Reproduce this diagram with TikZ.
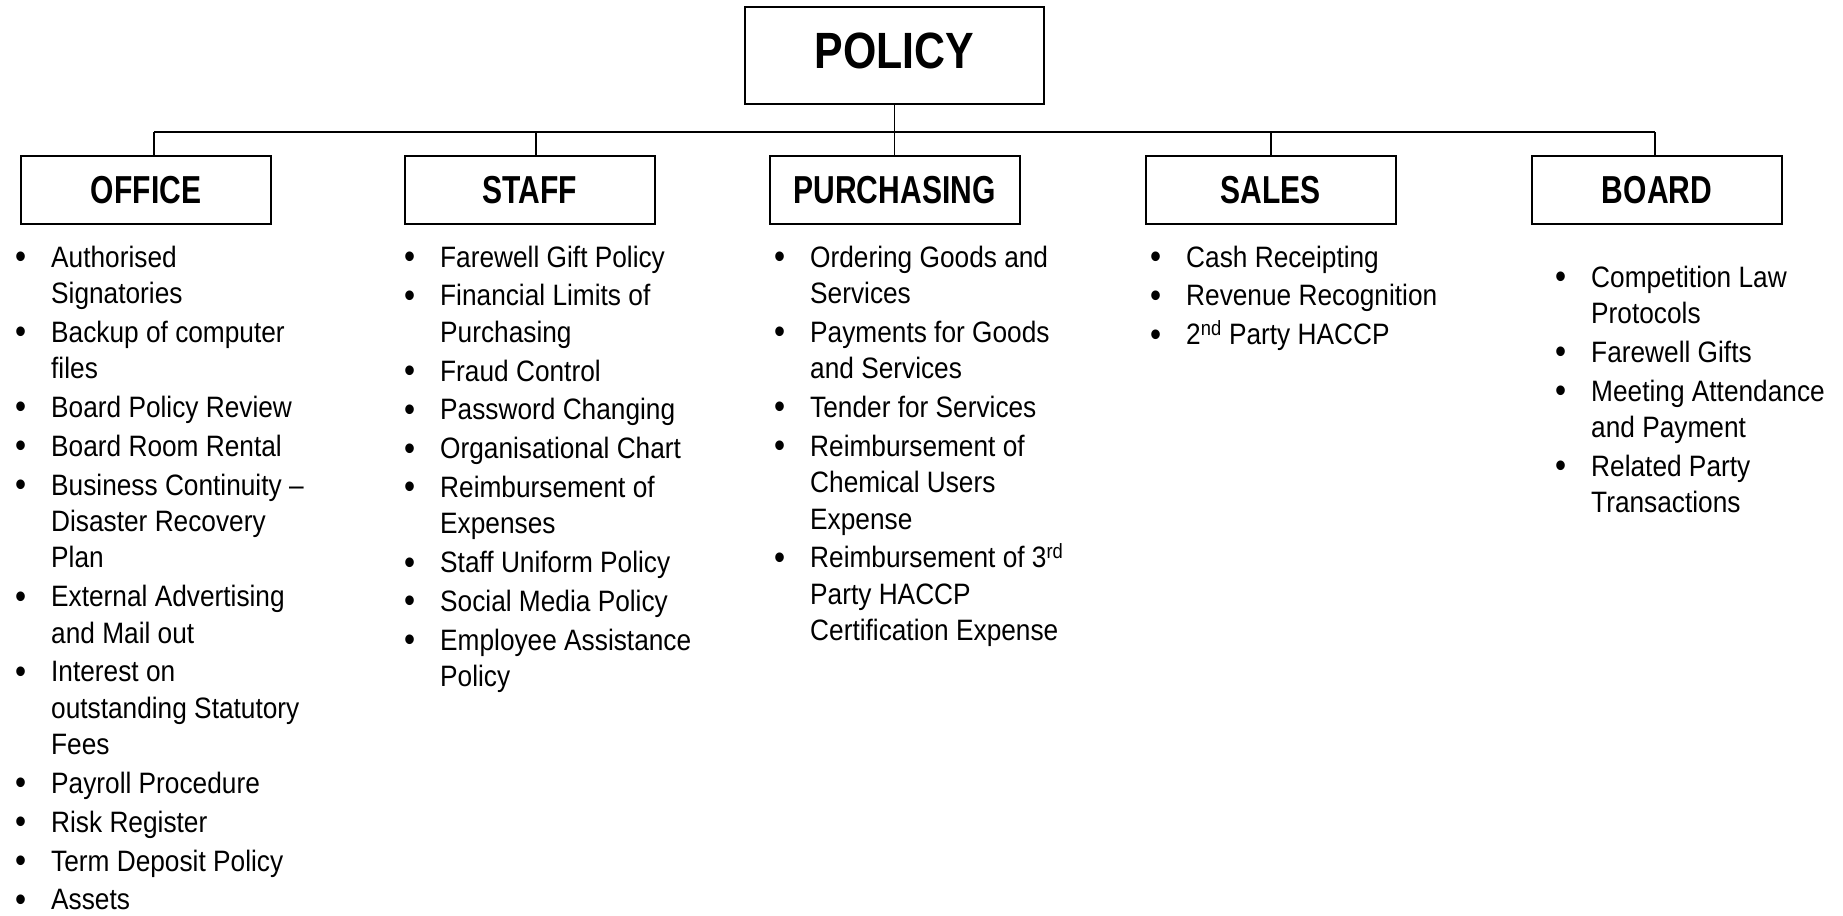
\documentclass[tikz,border=0pt]{standalone}
\usepackage{fontspec}
\setmainfont{Liberation Sans}
\newfontfamily\bodyfont[FakeStretch=0.89]{Liberation Sans}
\newfontfamily\headfont[FakeStretch=0.77]{Liberation Sans Bold}
\newfontfamily\titlefont[FakeStretch=0.84]{Liberation Sans Bold}
\newcommand\bmark{\llap{\raisebox{-1.5pt}{\scalebox{1.2}{\textbullet}}\hspace{25pt}}}
\newcommand\fitem{\noindent\bmark}
\newcommand\bitem{\par\noindent\bmark}
\newcommand\colsetup{\bodyfont\fontsize{29.5pt}{36.4pt}\selectfont\setlength\parskip{2.4pt}\spaceskip=7.3pt\relax\raggedright}
\tikzset{
  catbox/.style={draw, line width=2pt, inner sep=0pt, minimum width=250pt, minimum height=68pt,
    font=\headfont\fontsize{39pt}{44pt}\selectfont, text height=27.9pt, text depth=0pt},
  titlebox/.style={draw, line width=2pt, inner sep=0pt, minimum width=299pt, minimum height=97pt,
    font=\titlefont\fontsize{51pt}{58pt}\selectfont, text height=36.5pt, text depth=11.4pt},
  conn/.style={line width=1.3pt},
  itemlist/.style={anchor=base west, inner sep=0pt, text width=330pt}
}
\begin{document}
\begin{tikzpicture}[x=1pt,y=-1pt]
\useasboundingbox (0,0) rectangle (1843,915);
\node[titlebox] (policy) at (894.5,55.7) {POLICY};
\node[catbox] (office) at (146,189.5) {OFFICE};
\node[catbox] (staff) at (530,189.5) {STAFF};
\node[catbox] (purch) at (894.5,189.5) {PURCHASING};
\node[catbox] (sales) at (1270.5,189.5) {SALES};
\node[catbox] (board) at (1657,190) {BOARD};
\coordinate (bo) at (154,132);
\coordinate (bs) at (536,132);
\coordinate (bsa) at (1271,132);
\coordinate (bb) at (1655,132);
\draw[conn] (policy.south) -- (purch.north);
\draw[conn] (bo) -- (bb);
\draw[conn] (bo) -- (bo |- office.north);
\draw[conn] (bs) -- (bs |- staff.north);
\draw[conn] (bsa) -- (bsa |- sales.north);
\draw[conn] (bb) -- (bb |- board.north);
\node[itemlist] (lo) at (51,267) {\colsetup
\fitem Authorised\newline Signatories
\bitem Backup of computer\newline files
\bitem Board Policy Review
\bitem Board Room Rental
\bitem Business Continuity –\newline Disaster Recovery\newline Plan
\bitem External Advertising\newline and Mail out
\bitem Interest on\newline outstanding Statutory\newline Fees
\bitem Payroll Procedure
\bitem Risk Register
\bitem Term Deposit Policy
\bitem Assets\par};
\node[itemlist] (ls) at (440,267) {\colsetup
\fitem Farewell Gift Policy
\bitem Financial Limits of\newline Purchasing
\bitem Fraud Control
\bitem Password Changing
\bitem Organisational Chart
\bitem Reimbursement of\newline Expenses
\bitem Staff Uniform Policy
\bitem Social Media Policy
\bitem Employee Assistance\newline Policy\par};
\node[itemlist] (lp) at (810,267) {\colsetup
\fitem Ordering Goods and\newline Services
\bitem Payments for Goods\newline and Services
\bitem Tender for Services
\bitem Reimbursement of\newline Chemical Users\newline Expense
\bitem Reimbursement of 3\textsuperscript{rd}\newline Party HACCP\newline Certification Expense\par};
\node[itemlist] (lsa) at (1186,267) {\colsetup
\fitem Cash Receipting
\bitem Revenue Recognition
\bitem 2\textsuperscript{nd} Party HACCP\par};
\node[itemlist] (lb) at (1591,287) {\colsetup
\fitem Competition Law\newline Protocols
\bitem Farewell Gifts
\bitem Meeting Attendance\newline and Payment
\bitem Related Party\newline Transactions\par};
\end{tikzpicture}
\end{document}
